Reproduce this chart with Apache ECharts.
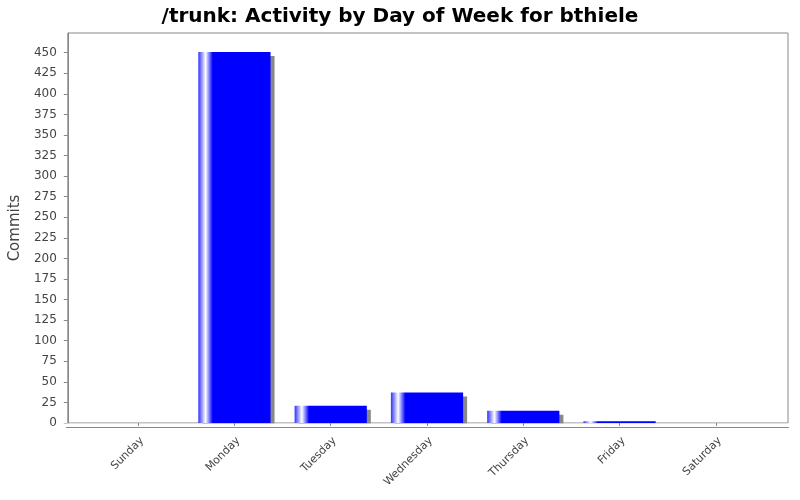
<!DOCTYPE html>
<html>
<head>
<meta charset="utf-8">
<script src="https://cdn.jsdelivr.net/npm/echarts@6/dist/echarts.min.js"></script>
<style>html,body{margin:0;padding:0;background:#fff}#c{width:800px;height:500px}</style>
</head>
<body>
<div id="c"></div>
<script>
const titleText = '/trunk: Activity by Day of Week for bthiele';
const categories = ['Sunday', 'Monday', 'Tuesday', 'Wednesday', 'Thursday', 'Friday', 'Saturday'];
const commits = [0, 451, 21, 37, 15, 2, 0];
const yAxisName = 'Commits';
const yMax = 474;
const yInterval = 25;

const FONT = 'DejaVu Sans';
const chart = echarts.init(document.getElementById('c'), null, {renderer: 'canvas'});
const barColor = new echarts.graphic.LinearGradient(0, 0, 1, 0, [
  {offset: 0, color: '#3030ff'},
  {offset: 0.1, color: '#ffffff'},
  {offset: 0.2, color: '#0000ff'},
  {offset: 1, color: '#0000ff'}
]);
chart.setOption({
  animation: false,
  backgroundColor: '#fff',
  title: {
    text: titleText, left: 'center', top: 2,
    textStyle: {fontFamily: FONT, fontSize: 20, fontWeight: 'bold', color: '#000'}
  },
  grid: [
    {left: 66, right: 12, top: 33, bottom: 77, show: true, borderColor: '#888', borderWidth: 1, backgroundColor: '#fff'},
    {left: 90, right: 36, top: 33, bottom: 77}
  ],
  graphic: [
    {type: 'rect', z: 5, silent: true,
     shape: {x: 60, y: 423.6, width: 740, height: 3.6},
     style: {fill: '#fff'}},
    {type: 'line', z: 6, silent: true,
     shape: {x1: 66, y1: 427.5, x2: 789, y2: 427.5},
     style: {stroke: '#888', lineWidth: 1}}
  ],
  xAxis: [
    {gridIndex: 0, type: 'value', min: 0, max: 1, show: false},
    {gridIndex: 1, type: 'category', data: categories, offset: 4, z: 10,
     axisLine: {show: false},
     axisTick: {show: true, alignWithLabel: true, length: 3, lineStyle: {color: '#888'}},
     axisLabel: {rotate: 45, fontFamily: FONT, fontSize: 11, color: '#444', margin: 8, verticalAlign: 'top'},
     splitLine: {show: false}}
  ],
  yAxis: [
    {gridIndex: 0, type: 'value', min: 0, max: yMax, interval: yInterval, offset: 4,
     name: yAxisName, nameLocation: 'middle', nameGap: 36,
     nameTextStyle: {fontFamily: FONT, fontSize: 15, color: '#444'},
     axisLine: {show: true, lineStyle: {color: '#888'}},
     axisTick: {show: true, length: 4, lineStyle: {color: '#888'}},
     axisLabel: {fontFamily: FONT, fontSize: 12, color: '#444', margin: 7, showMaxLabel: false},
     splitLine: {show: false}},
    {gridIndex: 1, type: 'value', min: 0, max: yMax, show: false}
  ],
  series: [{
    type: 'bar', xAxisIndex: 1, yAxisIndex: 1, data: commits, barWidth: '75%',
    itemStyle: {color: barColor, shadowColor: '#888', shadowOffsetX: 4, shadowOffsetY: 4, shadowBlur: 0}
  }]
});
</script>
</body>
</html>
